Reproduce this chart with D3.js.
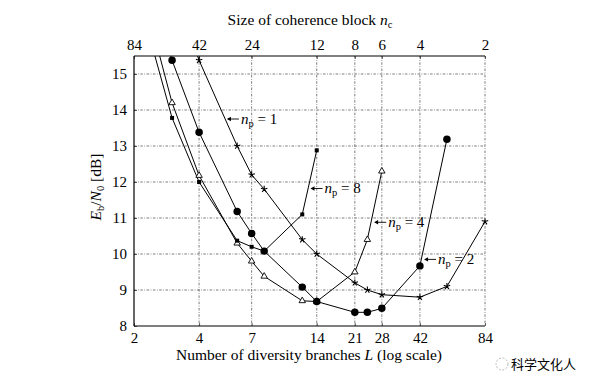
<!DOCTYPE html>
<html>
<head>
<script src="https://cdn.jsdelivr.net/npm/d3@7"></script>
<style>
  body { margin: 0; background: #fff; }
  text { font-family: "Liberation Serif", "DejaVu Serif", serif; fill: #000; }
  .grid line { stroke: #444; stroke-width: 0.7; stroke-dasharray: 2.5,1.5,0.8,1.5; }
</style>
</head>
<body>
<svg width="596" height="387"></svg>
<script>
// data (L = number of diversity branches, Eb/N0 in dB)
var L_np1 = [3, 4, 6, 7, 8, 12, 14, 21, 24, 28, 42, 56, 84];
var Y_np1 = [17.5, 15.38, 13.0, 12.2, 11.8, 10.4, 10.0, 9.2, 9.0, 8.87, 8.8, 9.1, 10.9];
var L_np2 = [2, 3, 4, 6, 7, 8, 12, 14, 21, 24, 28, 42, 56];
var Y_np2 = [19.0, 15.38, 13.38, 11.18, 10.57, 10.08, 9.08, 8.68, 8.38, 8.38, 8.49, 9.67, 13.19];
var L_np4 = [2, 3, 4, 6, 7, 8, 12, 14, 21, 24, 28];
var Y_np4 = [18.2, 14.2, 12.18, 10.3, 9.8, 9.38, 8.7, 8.68, 9.5, 10.4, 12.3];
var L_np8 = [2, 3, 4, 6, 7, 8, 12, 14];
var Y_np8 = [17.6, 13.78, 12.0, 10.37, 10.2, 10.08, 11.1, 12.88];

var xTicks = [2, 4, 7, 14, 21, 28, 42, 84];
var yTicks = [8, 9, 10, 11, 12, 13, 14, 15];
var topTickLabels = ["84", "42", "24", "12", "8", "6", "4", "2"];

// annotation anchors (data coords of arrow tip)
var annLabels = ["1", "8", "4", "2"];
var annL = [5.38, 13.1, 25.8, 43.9];
var annY = [13.75, 11.82, 10.88, 9.85];

var svg = d3.select("svg");
var pl = 134, pr = 485, pt = 56, pb = 326;

var x = d3.scaleLog().domain([2, 84]).range([pl, pr]);
var y = d3.scaleLinear().domain([8, 15.5]).range([pb, pt]);

// grid
var grid = svg.append("g").attr("class", "grid");
grid.selectAll(".v").data(xTicks.slice(1)).enter().append("line")
  .attr("x1", function(d) { return x(d); }).attr("x2", function(d) { return x(d); })
  .attr("y1", pt).attr("y2", pb);
grid.selectAll(".h").data(yTicks.slice(1)).enter().append("line")
  .attr("x1", pl).attr("x2", pr)
  .attr("y1", function(d) { return y(d); }).attr("y2", function(d) { return y(d); });

// axes
var axB = svg.append("g").attr("transform", "translate(0," + pb + ")")
  .call(d3.axisBottom(x).tickValues(xTicks).tickFormat(d3.format("d")).tickSizeInner(-3).tickSizeOuter(0).tickPadding(6));
var axL = svg.append("g").attr("transform", "translate(" + pl + ",0)")
  .call(d3.axisLeft(y).tickValues(yTicks).tickSizeInner(-3).tickSizeOuter(0).tickPadding(7));
var axT = svg.append("g").attr("transform", "translate(0," + pt + ")")
  .call(d3.axisTop(x).tickValues(xTicks).tickFormat(function(d, i) { return topTickLabels[i]; })
    .tickSizeInner(-3).tickSizeOuter(0).tickPadding(6));
[axB, axL, axT].forEach(function(a) {
  a.select(".domain").attr("stroke", "#000").attr("stroke-width", 1.2);
  a.selectAll("text").style("font-family", "Liberation Serif").style("font-size", "15px").attr("fill", "#000");
  a.selectAll(".tick line").attr("stroke", "#000").attr("stroke-width", 0.6);
});
axL.select(".domain").attr("d", "M0," + pt + "V" + pb);
axB.select(".domain").attr("d", "M" + pl + ",0H" + pr);
axT.select(".domain").attr("d", "M" + pl + ",0H" + pr);

// clip
svg.append("clipPath").attr("id", "clip").append("rect")
  .attr("x", pl).attr("y", pt).attr("width", pr - pl).attr("height", pb - pt);

var line = d3.line().x(function(d) { return x(d[0]); }).y(function(d) { return y(d[1]); });
var series = [
  { L: L_np1, Y: Y_np1, m: "star" },
  { L: L_np2, Y: Y_np2, m: "circle" },
  { L: L_np4, Y: Y_np4, m: "triangle" },
  { L: L_np8, Y: Y_np8, m: "square" }
];

var plot = svg.append("g").attr("clip-path", "url(#clip)");
series.forEach(function(s) {
  var pts = d3.zip(s.L, s.Y);
  plot.append("path").datum(pts).attr("d", line)
    .attr("fill", "none").attr("stroke", "#000").attr("stroke-width", 1);
});

// markers (triangles/squares first, circles on top)
var order = [0, 2, 3, 1];
var starPath = (function() {
  var p = "", r = 3.4;
  for (var k = 0; k < 5; k++) {
    var a = -Math.PI / 2 + k * 2 * Math.PI / 5;
    p += "M0,0L" + (r * Math.cos(a)).toFixed(2) + "," + (r * Math.sin(a)).toFixed(2);
  }
  return p;
})();
order.forEach(function(i) {
  var s = series[i];
  var pts = d3.zip(s.L, s.Y).filter(function(d) { return d[1] <= 15.5; });
  var g = svg.append("g");
  var sel = g.selectAll("path").data(pts).enter().append("path")
    .attr("transform", function(d) { return "translate(" + x(d[0]) + "," + y(d[1]) + ")"; });
  if (s.m === "circle") sel.attr("d", d3.symbol().type(d3.symbolCircle).size(44)).attr("fill", "#000");
  else if (s.m === "square") sel.attr("d", d3.symbol().type(d3.symbolSquare).size(16)).attr("fill", "#000");
  else if (s.m === "triangle") sel.attr("d", d3.symbol().type(d3.symbolTriangle).size(18))
    .attr("fill", "#fff").attr("stroke", "#000").attr("stroke-width", 0.9);
  else sel.attr("d", starPath).attr("fill", "none").attr("stroke", "#000").attr("stroke-width", 1.1);
});

// annotations
annLabels.forEach(function(lab, i) {
  var tx = x(annL[i]), ty = y(annY[i]);
  var g = svg.append("g");
  g.append("line").attr("x1", tx + 1).attr("x2", tx + 12).attr("y1", ty).attr("y2", ty)
    .attr("stroke", "#000").attr("stroke-width", 0.9);
  g.append("path").attr("d", "M" + tx + "," + ty + "l4,-2.2v4.4z").attr("fill", "#000");
  var t = g.append("text").attr("x", tx + 14).attr("y", ty + 4.5).style("font-size", "15px");
  t.append("tspan").style("font-style", "italic").text("n");
  t.append("tspan").attr("dy", 3).style("font-size", "10.5px").text("p");
  t.append("tspan").attr("dy", -3).text(" = " + lab);
});

// axis titles
var xt = svg.append("text").attr("x", 309).attr("y", 360).attr("text-anchor", "middle").style("font-size", "15.5px");
xt.append("tspan").text("Number of diversity branches ");
xt.append("tspan").style("font-style", "italic").text("L");
xt.append("tspan").text(" (log scale)");

var tt = svg.append("text").attr("x", 310).attr("y", 25).attr("text-anchor", "middle").style("font-size", "15.5px");
tt.append("tspan").text("Size of coherence block ");
tt.append("tspan").style("font-style", "italic").text("n");
tt.append("tspan").attr("dy", 3).style("font-size", "10.5px").text("c");

var yt = svg.append("text").attr("transform", "translate(101,187) rotate(-90)")
  .attr("text-anchor", "middle").style("font-size", "15.5px");
yt.append("tspan").style("font-style", "italic").text("E");
yt.append("tspan").attr("dy", 3).style("font-size", "10.5px").text("b");
yt.append("tspan").attr("dy", -3).text("/");
yt.append("tspan").style("font-style", "italic").text("N");
yt.append("tspan").attr("dy", 3).style("font-size", "10.5px").text("0");
yt.append("tspan").attr("dy", -3).text(" [dB]");

// watermark
svg.append("circle").attr("cx", 502).attr("cy", 364).attr("r", 6)
  .attr("fill", "none").attr("stroke", "#bbb").attr("stroke-width", 1).attr("stroke-dasharray", "2,1.5");
svg.append("text").attr("x", 511).attr("y", 369).style("font-family", "Noto Sans CJK SC")
  .style("font-size", "13px").attr("fill", "#666").text("科学文化人");
</script>
</body>
</html>
